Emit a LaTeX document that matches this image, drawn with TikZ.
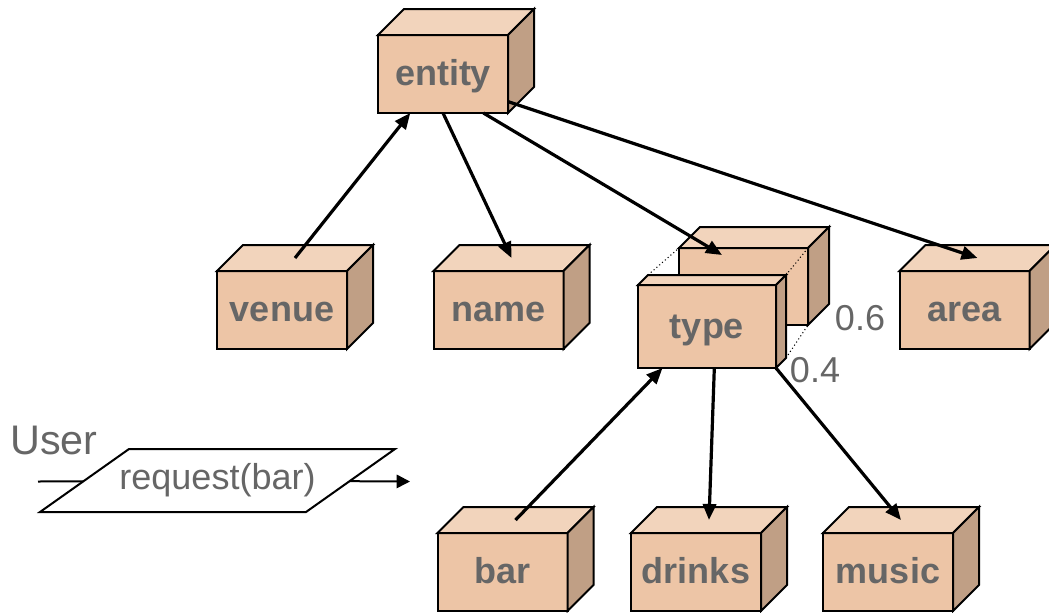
\documentclass[tikz,border=0pt]{standalone}
\usepackage{fontspec}
\setmainfont{Liberation Sans}
\usetikzlibrary{arrows.meta,backgrounds}
\definecolor{cratefront}{RGB}{237,197,166}
\definecolor{cratetop}{RGB}{242,212,188}
\definecolor{crateside}{RGB}{192,159,133}
\definecolor{labelgray}{RGB}{102,102,102}
\tikzset{
  crate/.style={draw,line width=1.5pt,fill=cratefront,text=labelgray,
    minimum width=97.5pt,minimum height=58.5pt,inner sep=0pt,outer sep=0pt,
    text height=23pt,text depth=5.4pt,
    font=\fontsize{27}{32}\selectfont\bfseries},
  face/.style={draw,line width=1.5pt},
  guide/.style={dotted,line width=0.8pt},
  link/.style={line width=2.4pt,-{Triangle[length=12pt,width=10pt]}},
  plain/.style={text=labelgray,inner sep=0pt,font=\fontsize{27}{32}\selectfont},
}
% a box: front face is the node, top and side faces are drawn after it
\newcommand\crate[5][]{%
  \node[crate,#1] (#2) at (#3) {#4};
  \filldraw[face,fill=cratetop] (#2.north west) -- ++(#5,-#5)
    -- ([shift={(#5,-#5)}]#2.north east) -- (#2.north east) -- cycle;
  \filldraw[face,fill=crateside] (#2.north east) -- ++(#5,-#5)
    -- ([shift={(#5,-#5)}]#2.south east) -- (#2.south east) -- cycle;
  \coordinate (#2-top) at ([shift={(#5/2,-#5/2)}]#2.north);
}
\begin{document}
\begin{tikzpicture}[x=0.75pt,y=-0.75pt]
\useasboundingbox (0,0) rectangle (1049,612);
\crate{entity}{443,74}{entity}{26}
\crate{venue}{282,310}{venue}{26}
\crate{name}{498.5,310}{name}{26}
\crate{area}{964.5,310}{area}{26}
% type is a stack of two boxes
\crate[minimum width=96.75pt,minimum height=57.75pt]{typeback}{743.5,286.5}{}{21}
\crate[minimum width=103.5pt,minimum height=62.25pt]{type}{707,326.5}{type}{10}
\draw[guide] ([shift={(10,-10)}]type.north west) -- (typeback.north west);
\draw[guide] ([shift={(10,-10)}]type.north east) -- (typeback.north east);
\draw[guide] ([shift={(10,-10)}]type.south east) -- (typeback.south east);
\crate{bar}{502.5,572}{bar}{26}
\crate{drinks}{696,572}{drinks}{26}
\crate{music}{888,572}{music}{26}
\node[plain] (p6) at (860,318) {0.6};
\node[plain] (p4) at (815,370) {0.4};
\draw[link] (venue-top) -- (entity.-130);
\draw[link] (entity.-90) -- (name-top);
\draw[link] (entity.-44) -- ([shift={(-21.5,-31.5)}]typeback.center);
\draw[link] (entity.-23) -- (area-top);
\draw[link] (bar-top) -- (type.-137);
\draw[link] (type.-80) -- (drinks-top);
\draw[link] (type.south east) -- (music-top);
% user request
\node[plain,font=\fontsize{31}{36}\selectfont] (user) at (54,440) {User};
\node[plain] (req) at (217.5,480.5) {request(bar)};
\coordinate (uin) at (38,481.5);
\coordinate (uout) at (410,481.5);
\begin{pgfonlayer}{background}
\draw[line width=1.5pt] (uin) -- (req);
\draw[line width=1.5pt,-{Triangle[length=10pt,width=10pt]}] (req) -- (uout);
\filldraw[face,fill=white] ([shift={(-88.5,-31.5)}]req.center) -- ++(266,0) -- ++(-89,63) -- ++(-266,0) -- cycle;
\end{pgfonlayer}
\end{tikzpicture}
\end{document}
